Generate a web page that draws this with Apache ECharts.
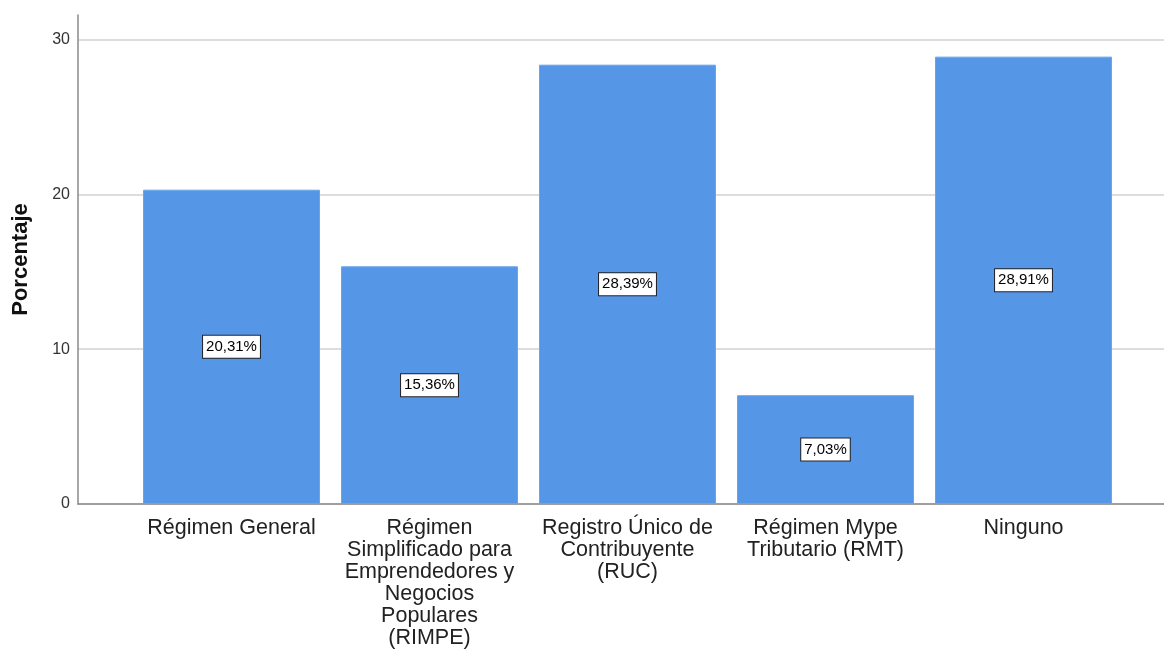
<!DOCTYPE html>
<html>
<head>
<meta charset="utf-8">
<script src="https://cdn.jsdelivr.net/npm/echarts@6/dist/echarts.min.js"></script>
<style>html,body{margin:0;padding:0;background:#fff}#c{width:1164px;height:650px}</style>
</head>
<body>
<div id="c"></div>
<script>
var categories = [
  'Régimen General',
  'Régimen\nSimplificado para\nEmprendedores y\nNegocios\nPopulares\n(RIMPE)',
  'Registro Único de\nContribuyente\n(RUC)',
  'Régimen Mype\nTributario (RMT)',
  'Ninguno'
];
var values = [20.31, 15.36, 28.39, 7.03, 28.91];
var yTicks = [0, 10, 20, 30];

var FONT = '"Liberation Sans", Arial, sans-serif';
var chart = echarts.init(document.getElementById('c'));
chart.setOption({
  backgroundColor: '#fff',
  animation: false,
  grid: [
    {left: 78, right: 0, top: 39.5, bottom: 146},
    {left: 78, right: 0, top: 15, bottom: 146},
    {left: 132.5, width: 990, top: 15, bottom: 146}
  ],
  xAxis: [
    {gridIndex: 0, type: 'value', min: 0, max: 1, show: false},
    {gridIndex: 1, type: 'value', min: 0, max: 1,
      axisLine: {show: true, onZero: false, lineStyle: {color: '#8a8a8a', width: 1.5}},
      axisTick: {show: false}, axisLabel: {show: false}, splitLine: {show: false}},
    {gridIndex: 2, type: 'category', data: categories,
      axisLine: {show: false}, axisTick: {show: false},
      axisLabel: {interval: 0, margin: 13, fontFamily: FONT, fontSize: 21.5, lineHeight: 22, color: '#222', align: 'center'}}
  ],
  yAxis: [
    {gridIndex: 0, type: 'value', min: yTicks[0], max: yTicks[yTicks.length - 1], interval: 10,
      axisLine: {show: false}, axisTick: {show: false},
      axisLabel: {margin: 8, fontFamily: FONT, fontSize: 16, color: '#333'},
      splitLine: {show: true, lineStyle: {color: '#d2d2d2', width: 1.5}}},
    {gridIndex: 1, type: 'value', min: 0, max: 31.6,
      name: 'Porcentaje', nameLocation: 'middle', nameGap: 46, nameRotate: 90,
      nameTextStyle: {fontFamily: FONT, fontSize: 22, fontWeight: 'bold', color: '#111'},
      axisLine: {show: true, lineStyle: {color: '#8a8a8a', width: 1.5}},
      axisTick: {show: false}, axisLabel: {show: false}, splitLine: {show: false}},
    {gridIndex: 2, type: 'value', min: 0, max: 31.6, show: false}
  ],
  series: [{
    type: 'bar',
    xAxisIndex: 2, yAxisIndex: 2,
    data: values,
    barWidth: 177,
    itemStyle: {color: '#5596e6', borderColor: '#6aa4ec', borderWidth: 1},
    label: {
      show: true, position: 'inside',
      formatter: function (p) { return p.value.toFixed(2).replace('.', ',') + '%'; },
      fontFamily: FONT, fontSize: 15, color: '#000',
      backgroundColor: '#fff', borderColor: '#222', borderWidth: 1, padding: [4, 3, 3, 3]
    }
  }]
});
</script>
</body>
</html>
